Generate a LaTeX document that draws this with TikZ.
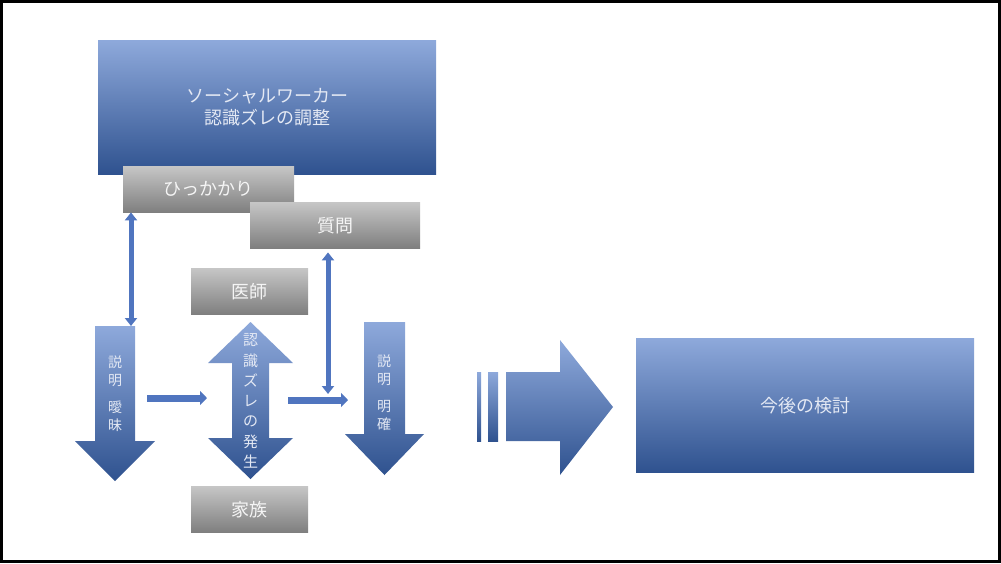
\documentclass[tikz,border=0pt]{standalone}
\usepackage{fontspec}
\setmainfont{Noto Sans CJK JP}
\usetikzlibrary{arrows.meta,positioning,calc}

\definecolor{blueTop}{HTML}{8EA9DB}
\definecolor{blueBot}{HTML}{2F528F}
\definecolor{blueMid}{HTML}{5075BF}
\definecolor{grayTop}{HTML}{C6C6C6}
\definecolor{grayBot}{HTML}{7F7F7F}
\definecolor{paleText}{HTML}{E4E9F4}

\begin{document}
\begin{tikzpicture}[
    x=1pt, y=-1pt,
    bluebox/.style={rectangle, top color=blueTop, bottom color=blueBot, draw=none, text=paleText, align=center, inner sep=0pt, anchor=north west, font=\fontsize{18}{22}\selectfont},
    graybox/.style={rectangle, top color=grayTop, bottom color=grayBot, draw=none, text=white!92!gray, inner sep=0pt, anchor=north west, minimum height=46, font=\fontsize{18}{20}\selectfont},
    fatarrow/.style={top color=blueTop, bottom color=blueBot, draw=none},
    vtext/.style={text=paleText, align=center, inner sep=0pt},
    link/.style={draw=blueMid, line width=5, {Triangle[width=12,length=8]}-{Triangle[width=12,length=8]}},
    push/.style={draw=blueMid, line width=7, -{Triangle[width=14,length=7]}}
]
\useasboundingbox (0,0) rectangle (1001,563);
\draw[line width=2.5] (1.5,1.5) rectangle (999.5,561.5);

% top box and labels
\node[bluebox, minimum width=338, minimum height=134] (sw) at (98,40) {ソーシャルワーカー\\認識ズレの調整};
\node[graybox, minimum width=171] (hikka) at (123,166) {ひっかかり};
\node[graybox, minimum width=170] (question) at (250,202) {質問};
\node[graybox, minimum width=117] (doctor) at (191,268) {医師};
\node[graybox, minimum width=117] (family) at (191,486) {家族};

% fat arrows
\shade[fatarrow] (95,326) -- (135,326) -- (135,441) -- (155,441) -- (115,481) -- (75,441) -- (95,441) -- cycle;
\shade[fatarrow] (250.5,322) -- (293,363) -- (269,363) -- (269,438) -- (293,438) -- (250.5,479) -- (208,438) -- (232,438) -- (232,363) -- (208,363) -- cycle;
\shade[fatarrow] (364,322) -- (405,322) -- (405,434) -- (424,434) -- (384.5,475) -- (345,434) -- (364,434) -- cycle;
\shade[fatarrow] (477,372) rectangle (481,441);
\shade[fatarrow] (488,372) rectangle (498,441);
\shade[fatarrow] (506,372) -- (560,372) -- (560,340) -- (613,407) -- (560,475) -- (560,441) -- (506,441) -- cycle;

\node[vtext, font=\fontsize{14}{18}\selectfont] (vague) at (115,394) {説\\明\\[9pt]曖\\昧};
\node[vtext, font=\fontsize{15}{20.3}\selectfont] (gap) at (250.5,401) {認\\識\\ズ\\レ\\の\\発\\生};
\node[vtext, font=\fontsize{14}{18}\selectfont] (clear) at (384,393) {説\\明\\[9pt]明\\確};

\node[bluebox, minimum width=338, minimum height=134] (future) at (636,338) {今後の検討};

% connectors
\coordinate (vaguetop) at (131,326);
\coordinate (cleartip) at (328,394);
\coordinate (vagueR) at (147,398);
\coordinate (gapL) at (207,398);
\coordinate (gapR) at (288,400);
\coordinate (clearL) at (348,400);

\draw[link] (hikka.south -| vaguetop) -- (vaguetop);
\draw[link] (question.south -| cleartip) ++(0,4) -- (cleartip);
\draw[push] (vagueR) -- (gapL);
\draw[push] (gapR) -- (clearL);
\end{tikzpicture}
\end{document}
